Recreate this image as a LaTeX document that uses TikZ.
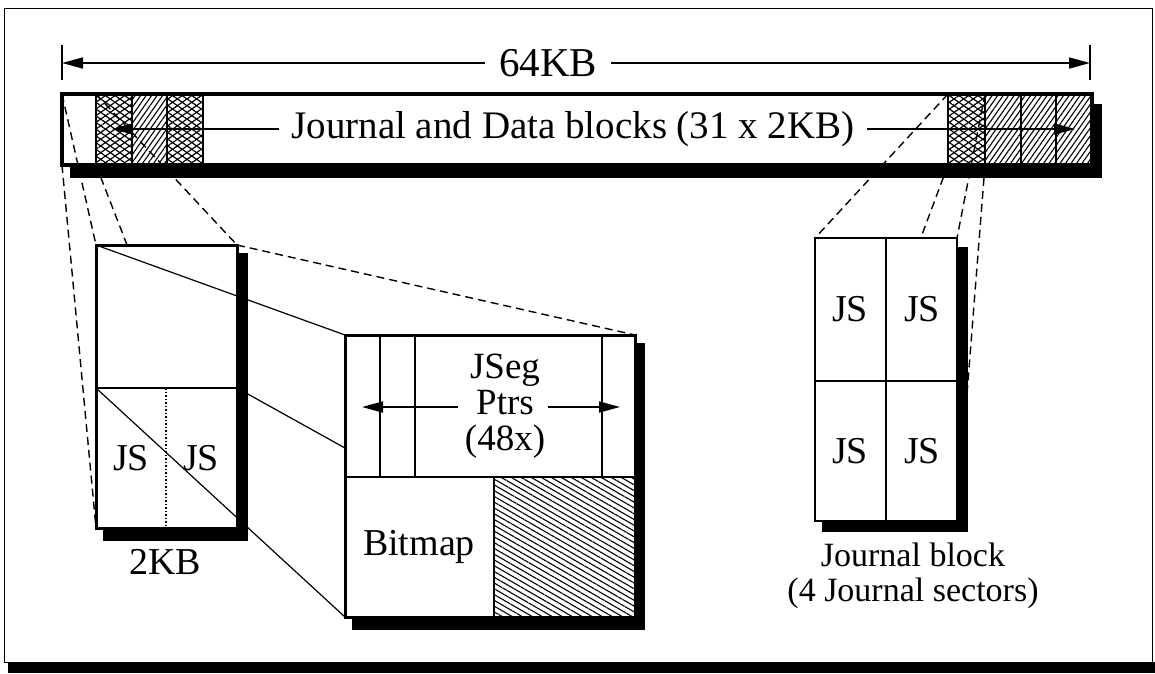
\documentclass[tikz,border=0pt]{standalone}
\usepackage{fontspec}
\setmainfont{Liberation Serif}
\usetikzlibrary{patterns.meta,arrows.meta}
\begin{document}
\begin{tikzpicture}[x=1pt,y=-1pt,
  lbl/.style={font=\fontsize{38}{34}\selectfont, inner sep=0pt, align=center},
  zoomline/.style={dash pattern=on 8pt off 5pt, line width=1.4pt},
  linkline/.style={line width=1.2pt},
  divline/.style={line width=1.5pt},
  dimarrow/.style={line width=1.6pt, -{Triangle[length=21pt,width=11pt]}},
  xhatchA/.style={pattern={Lines[angle=35,distance=5.5pt,line width=1.2pt]}},
  xhatchB/.style={pattern={Lines[angle=-35,distance=5.5pt,line width=1.2pt]}},
  dhatch/.style={pattern={Lines[angle=55,distance=4.5pt,line width=1.1pt]}},
  bhatch/.style={pattern={Lines[angle=-30,distance=5pt,line width=1.1pt]}},
]
\useasboundingbox (0,0) rectangle (1155,673);
% outer frame
\fill (8,662) rectangle (1155,673);
\draw[line width=1pt] (4,8) rectangle (1152,662);

% 64KB dimension
\coordinate (d64L) at (62,63);
\coordinate (d64R) at (1090,63);
\draw[line width=1.5pt] (62,45) -- (62,80);
\draw[line width=1.5pt] (1090,45) -- (1090,80);
\node[lbl, font=\fontsize{41}{41}\selectfont] (t64) at (548,63) {64KB};
\draw[dimarrow] ([xshift=-14pt]t64.west |- d64L) -- (d64L);
\draw[dimarrow] ([xshift=14pt]t64.east |- d64R) -- (d64R);

% bar
\coordinate (barNW) at (62,94);
\coordinate (barSE) at (1092,165);
\fill ([shift={(8,10)}]barNW) rectangle ([shift={(10,13)}]barSE);
\fill[white] (barNW) rectangle (barSE);
\foreach \a/\b in {96/132,167/203,948/985}{
  \fill[xhatchA] (\a,94) rectangle (\b,165);
  \fill[xhatchB] (\a,94) rectangle (\b,165);
}
\foreach \a/\b in {132/167,985/1021,1021/1056,1056/1092}{
  \fill[dhatch] (\a,94) rectangle (\b,165);
}
\foreach \x in {96,132,167,203,948,985,1021,1056}{
  \draw[divline] (\x,94) -- (\x,165);
}
\draw[line width=3.5pt] (barNW) rectangle (barSE);
\coordinate (barArrL) at (112,129);
\coordinate (barArrR) at (1075,129);
\node[lbl, font=\fontsize{39}{39}\selectfont] (tbar) at (573,129) {Journal and Data blocks (31 x 2KB)};
\draw[dimarrow] ([xshift=-12pt]tbar.west |- barArrL) -- (barArrL);
\draw[dimarrow] ([xshift=12pt]tbar.east |- barArrR) -- (barArrR);

% box corners
\coordinate (kbNW) at (96,245);  \coordinate (kbNE) at (237,245);
\coordinate (kbSW) at (96,528);  \coordinate (kbSE) at (237,528);
\coordinate (kbML) at (96,388);  \coordinate (kbMR) at (237,388);
\coordinate (jsNW) at (345,335); \coordinate (jsNE) at (635,335);
\coordinate (jsSW) at (345,617); \coordinate (jsSE) at (635,617);
\coordinate (jsL) at (345,448);
\coordinate (jbNW) at (815,238); \coordinate (jbNE) at (957,238);
\coordinate (jbSW) at (815,521); \coordinate (jbSE) at (957,521);

% dashed zoom lines
\draw[zoomline] (62,94) -- (kbNW);
\draw[zoomline] (62,165) -- (kbSW);
\draw[zoomline] (96,94) -- (kbNE);
\draw[zoomline] (96,165) -- (kbSE);
\draw[zoomline] (kbNE) -- (jsNE);
\draw[zoomline] (948,94) -- (jbNW);
\draw[zoomline] (948,165) -- (jbSW);
\draw[zoomline] (985,94) -- (jbNE);
\draw[zoomline] (985,165) -- (jbSE);

% 2KB box
\fill ([shift={(7,8)}]kbNW) rectangle ([shift={(11,13)}]kbSE);
\fill[white] (kbNW) rectangle (kbSE);
\draw[divline] (kbML) -- (kbMR);
\draw[line width=1.5pt, dotted] (166,388) -- (166,528);
\node[lbl] (kbjs1) at (131,458) {JS};
\node[lbl] (kbjs2) at (201,458) {JS};
\draw[line width=3pt] (kbNW) rectangle (kbSE);
\node[lbl] (t2kb) at (165,562) {2KB};

% solid links
\draw[linkline] (kbNW) -- (jsNW);
\draw[linkline] (kbML) -- (jsSW);
\draw[linkline] (kbMR) -- (jsL);

% JSeg box
\fill ([shift={(7,8)}]jsNW) rectangle ([shift={(10,13)}]jsSE);
\fill[white] (jsNW) rectangle (jsSE);
\fill[bhatch] (494,477) rectangle (jsSE);
\draw[divline] (345,477) -- (635,477);
\draw[divline] (494,477) -- (494,617);
\foreach \x in {380,415,602}{ \draw[divline] (\x,335) -- (\x,477); }
\node[lbl, font=\fontsize{37}{36}\selectfont] (tjseg) at (505,406) {JSeg\\Ptrs\\(48x)};
\coordinate (jsArrL) at (362,407);
\coordinate (jsArrR) at (620,407);
\draw[dimarrow] (458,407) -- (jsArrL);
\draw[dimarrow] (548,407) -- (jsArrR);
\node[lbl] (tbitmap) at (419,547) {Bitmap};
\draw[line width=3pt] (jsNW) rectangle (jsSE);

% Journal block box
\fill ([shift={(7,9)}]jbNW) rectangle ([shift={(11,11)}]jbSE);
\fill[white] (jbNW) rectangle (jbSE);
\draw[divline] (886,238) -- (886,521);
\draw[divline] (815,381) -- (957,381);
\node[lbl] (jb1) at (850,309) {JS};
\node[lbl] (jb2) at (922,309) {JS};
\node[lbl] (jb3) at (850,451) {JS};
\node[lbl] (jb4) at (922,451) {JS};
\draw[line width=2pt] (jbNW) rectangle (jbSE);
\node[lbl, font=\fontsize{34}{35}\selectfont] (tjb) at (913,576) {Journal block\\(4 Journal sectors)};
\end{tikzpicture}
\end{document}
